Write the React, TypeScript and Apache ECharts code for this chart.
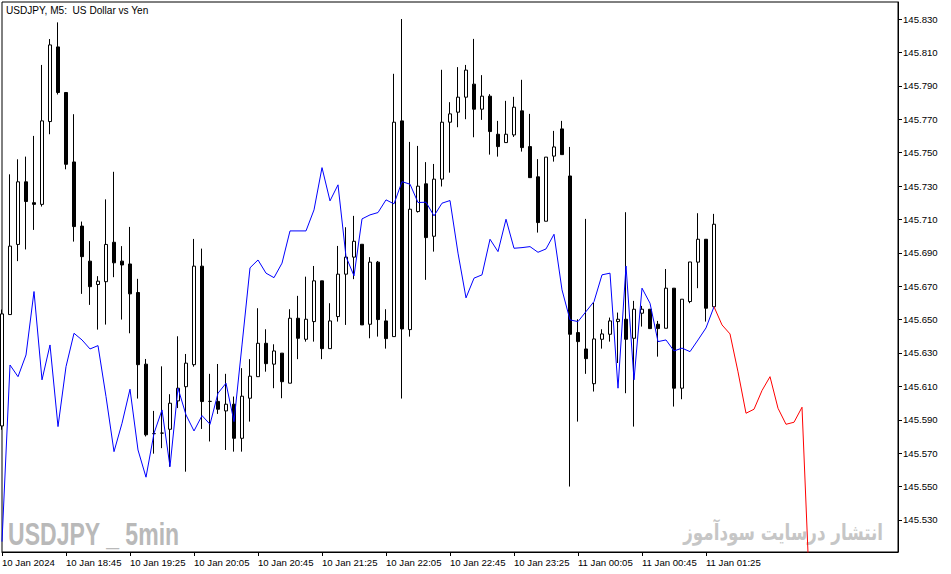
import React, { useEffect, useRef } from "react";
import * as echarts from "echarts";

// ---- Data ----
const tickLabels = [
  "10 Jan 2024", "10 Jan 18:45", "10 Jan 19:25", "10 Jan 20:05", "10 Jan 20:45", "10 Jan 21:25",
  "10 Jan 22:05", "10 Jan 22:45", "10 Jan 23:25", "11 Jan 00:05", "11 Jan 00:45", "11 Jan 01:25",
];
const BARS_PER_LABEL = 8;
const SLOT_COUNT = 113;

const opens = [
  145.5863, 145.653, 145.695, 145.7325, 145.72, 145.719, 145.7686, 145.8133, 145.786, 145.7444,
  145.706, 145.685, 145.671, 145.6727, 145.6963, 145.685, 145.6833, 145.6662, 145.6233, 145.5817,
  145.582, 145.5843, 145.6013, 145.6098, 145.623, 145.682, 145.601, 145.601, 145.5953, 145.5993,
  145.5789, 145.6029, 145.6158, 145.6358, 145.6233, 145.6299, 145.6119, 145.6508, 145.6382, 145.6488,
  145.6732, 145.6326, 145.6518, 145.6772, 145.6874, 145.6951, 145.6472, 145.6844, 145.6492, 145.6398,
  145.769, 145.644, 145.7147, 145.7313, 145.6999, 145.7341, 145.7682, 145.7742, 145.7832, 145.791,
  145.776, 145.7838, 145.761, 145.756, 145.7606, 145.775, 145.7536, 145.7355, 145.7089, 145.7479,
  145.7642, 145.736, 145.6422, 145.6324, 145.6116, 145.6382, 145.6412, 145.6488, 145.6502, 145.6388,
  145.6538, 145.6562, 145.6472, 145.6448, 145.6688, 145.6089, 145.6608, 145.6844, 145.6981, 145.6577,
];
const closes = [
  145.6534, 145.694, 145.7325, 145.7207, 145.719, 145.769, 145.8145, 145.786, 145.743, 145.7057,
  145.6877, 145.6697, 145.673, 145.695, 145.684, 145.6827, 145.6654, 145.623, 145.581, 145.5817,
  145.582, 145.5999, 145.6089, 145.6239, 145.682, 145.6009, 145.601, 145.5963, 145.5993, 145.5789,
  145.6041, 145.6161, 145.6358, 145.6236, 145.6312, 145.6128, 145.6508, 145.6388, 145.6502, 145.6732,
  145.6326, 145.6492, 145.6772, 145.6874, 145.6969, 145.6468, 145.6844, 145.65, 145.6386, 145.7682,
  145.6444, 145.7161, 145.7299, 145.6991, 145.7341, 145.7682, 145.7732, 145.7832, 145.7994, 145.776,
  145.7838, 145.7626, 145.7536, 145.761, 145.7772, 145.753, 145.735, 145.7081, 145.7473, 145.7534,
  145.7488, 145.6412, 145.6368, 145.6266, 145.6384, 145.6414, 145.6492, 145.6502, 145.6382, 145.6562,
  145.6562, 145.6446, 145.6446, 145.6688, 145.6089, 145.6622, 145.6845, 145.6981, 145.6568, 145.7071,
];
const lows = [
  145.584, 145.653, 145.685, 145.692, 145.7037, 145.7177, 145.761, 145.7848, 145.74, 145.6967,
  145.6654, 145.6588, 145.644, 145.647, 145.6754, 145.65, 145.6418, 145.6027, 145.58, 145.5697,
  145.573, 145.5619, 145.597, 145.5589, 145.6218, 145.5845, 145.577, 145.5935, 145.5719, 145.5709,
  145.5709, 145.5889, 145.6158, 145.6188, 145.6089, 145.6029, 145.6119, 145.6263, 145.6368, 145.6368,
  145.6263, 145.6326, 145.6488, 145.6468, 145.6742, 145.6468, 145.6388, 145.6398, 145.6326, 145.6398,
  145.6027, 145.6398, 145.7141, 145.6738, 145.6907, 145.7297, 145.738, 145.7652, 145.77, 145.7592,
  145.7696, 145.7488, 145.7476, 145.756, 145.7594, 145.7506, 145.735, 145.7021, 145.7089, 145.7446,
  145.7488, 145.55, 145.5889, 145.6175, 145.6069, 145.6326, 145.6368, 145.624, 145.6059, 145.5859,
  145.6458, 145.6446, 145.6278, 145.6448, 145.5979, 145.6023, 145.6598, 145.6688, 145.6488, 145.6577,
];
const highs = [
  145.656, 145.737, 145.746, 145.7476, 145.76, 145.8025, 145.818, 145.828, 145.786, 145.773,
  145.7087, 145.697, 145.676, 145.722, 145.7385, 145.694, 145.7055, 145.6744, 145.6264, 145.5953,
  145.622, 145.6053, 145.64, 145.6294, 145.6983, 145.6925, 145.6175, 145.6234, 145.6175, 145.6039,
  145.6209, 145.6263, 145.6568, 145.6442, 145.6352, 145.6299, 145.6562, 145.6642, 145.6757, 145.6821,
  145.6732, 145.6598, 145.6941, 145.7053, 145.7121, 145.6951, 145.6874, 145.6851, 145.6562, 145.7972,
  145.83, 145.7564, 145.754, 145.7443, 145.7432, 145.7996, 145.7802, 145.8012, 145.8025, 145.8181,
  145.7964, 145.785, 145.769, 145.781, 145.7834, 145.7936, 145.7732, 145.7461, 145.7473, 145.763,
  145.769, 145.7534, 145.6502, 145.7103, 145.6602, 145.6442, 145.6512, 145.6542, 145.7143, 145.6612,
  145.6582, 145.6562, 145.6492, 145.6803, 145.6688, 145.6622, 145.6845, 145.7137, 145.6981, 145.7133,
];
const blueLine = [
  145.517, 145.6228, 145.6158, 145.6288, 145.6668, 145.6139, 145.6348, 145.5859, 145.6218, 145.6418,
  145.6378, 145.6324, 145.6344, 145.6039, 145.5709, 145.5879, 145.6083, 145.5719, 145.5556, 145.5819,
  145.5959, 145.5619, 145.6089, 145.5929, 145.5833, 145.5925, 145.5873, 145.6059, 145.6119, 145.5889,
  145.6348, 145.681, 145.6857, 145.6778, 145.6751, 145.6838, 145.7031, 145.7031, 145.7031, 145.7157,
  145.741, 145.7211, 145.7307, 145.6877, 145.6762, 145.7103, 145.7127, 145.7141, 145.7217, 145.7193,
  145.7326, 145.7311, 145.7201, 145.7203, 145.7121, 145.7197, 145.7213, 145.6898, 145.663, 145.6748,
  145.6768, 145.6981, 145.6907, 145.7101, 145.6927, 145.6931, 145.6937, 145.6903, 145.6923, 145.7011,
  145.6678, 145.6498, 145.6488, 145.6548, 145.6608, 145.6768, 145.6778, 145.6089, 145.6821, 145.6139,
  145.6688, 145.6598, 145.6368, 145.6378, 145.6312, 145.6329, 145.6308, 145.6378, 145.645, 145.6577,
];
const RED_START = 89;
const redLine = [
  145.6577, 145.6468, 145.6414, 145.6187, 145.5939, 145.5963, 145.6075, 145.6158, 145.5969,
  145.5873, 145.5885, 145.5975, 145.4815,
];
const yTicks = [
  145.53, 145.55, 145.57, 145.59, 145.61, 145.63, 145.65, 145.67, 145.69, 145.71,
  145.73, 145.75, 145.77, 145.79, 145.81, 145.83,
];
const Y_MIN = 145.5108;
const Y_MAX = 145.8402;
const titleText = "USDJPY, M5:  US Dollar vs Yen";
const watermarkLeft = "USDJPY _ 5min";
const watermarkRight = "انتشار درسایت سودآموز";

export default function App() {
  const ref = useRef<HTMLDivElement>(null);

  useEffect(() => {
    if (!ref.current) return;
    const chart = echarts.init(ref.current, null, { renderer: "svg" });
    const lastLabelIdx = (tickLabels.length - 1) * BARS_PER_LABEL;
    const cats = Array.from({ length: SLOT_COUNT }, (_, i) =>
      i % BARS_PER_LABEL === 0 && i / BARS_PER_LABEL < tickLabels.length ? tickLabels[i / BARS_PER_LABEL] : ""
    );
    const showIdx = (i: number) => i % BARS_PER_LABEL === 0 && i <= lastLabelIdx;
    const candleData = opens.map((o, i) => [o, closes[i], lows[i], highs[i]]);
    const redData: (number | null)[] = [];
    for (let i = 0; i < RED_START; i++) redData.push(null);
    redLine.forEach((v) => redData.push(v));

    const axisFont = { color: "#000", fontSize: 9.6, fontFamily: "Liberation Sans" };

    chart.setOption({
      animation: false,
      backgroundColor: "#fff",
      grid: {
        left: 2, top: 2, right: 53, bottom: 22,
        show: true, borderColor: "#000", borderWidth: 1,
        containLabel: false, outerBoundsMode: "none",
      },
      xAxis: {
        type: "category",
        data: cats,
        boundaryGap: false,
        axisLine: { show: true, lineStyle: { color: "#000", width: 1 } },
        axisTick: { show: true, interval: showIdx, length: 4, lineStyle: { color: "#000" } },
        axisLabel: { ...axisFont, interval: showIdx, align: "left", margin: 5 },
        splitLine: { show: false },
      },
      yAxis: {
        type: "value",
        position: "right",
        min: Y_MIN,
        max: Y_MAX,
        axisLine: { show: true, lineStyle: { color: "#000", width: 1 } },
        axisTick: { show: true, length: 4, customValues: yTicks, lineStyle: { color: "#000" } },
        axisLabel: { ...axisFont, customValues: yTicks, formatter: (v: number) => v.toFixed(3), margin: 5 },
        splitLine: { show: false },
      },
      graphic: [
        {
          type: "text", x: 6, y: 10, z: 10,
          style: { text: titleText, font: '10.1px "Liberation Sans"', fill: "#000", align: "left", verticalAlign: "middle" },
        },
        {
          type: "text", x: 8, y: 534, scaleX: 0.72, z: 1,
          style: { text: watermarkLeft, font: 'bold 32px "Liberation Sans"', fill: "#b9b9b9", align: "left", verticalAlign: "middle" },
        },
        {
          type: "text", x: 883, y: 533, scaleX: 0.76, z: 1,
          style: { text: watermarkRight, font: 'bold 22px "DejaVu Sans"', fill: "#c6c6c6", align: "right", verticalAlign: "middle" },
        },
      ],
      series: [
        {
          type: "candlestick",
          data: candleData,
          barWidth: 4,
          z: 3,
          itemStyle: {
            color: "#fff", color0: "#000",
            borderColor: "#000", borderColor0: "#000", borderColorDoji: "#000",
            borderWidth: 1,
          },
        },
        {
          type: "line",
          data: blueLine,
          symbol: "none",
          showSymbol: false,
          z: 4,
          lineStyle: { color: "#0000ff", width: 1 },
          itemStyle: { color: "#0000ff" },
        },
        {
          type: "line",
          data: redData,
          symbol: "none",
          showSymbol: false,
          z: 4,
          lineStyle: { color: "#ff0000", width: 1 },
          itemStyle: { color: "#ff0000" },
        },
      ],
    });
    return () => chart.dispose();
  }, []);

  return (
    <div
      ref={ref}
      style={{ position: "fixed", left: 0, top: 0, width: 951, height: 574, background: "#fff" }}
    />
  );
}
